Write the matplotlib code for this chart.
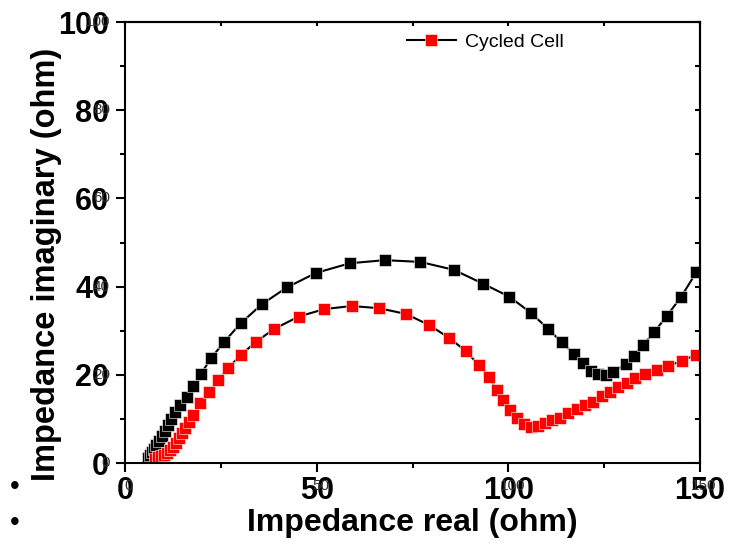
# EIS Nyquist grafigi: taze hucre (siyah) ve cevrimli hucre (kirmizi)
import matplotlib
matplotlib.use("Agg")
import matplotlib.pyplot as plt

plt.rcParams["font.family"] = ["Liberation Sans", "DejaVu Sans"]

# siyah seri (lejantta yok)
siyah_x = [6.1, 6.5, 7.0, 7.6, 8.2, 8.9, 9.7, 10.4, 11.2, 12.0, 13.0, 14.3,
           16.1, 17.8, 19.8, 22.4, 25.9, 30.2, 35.7, 42.2, 49.8, 58.7, 67.8,
           77.0, 85.8, 93.3, 100.3, 105.8, 110.4, 113.9, 117.1, 119.6, 121.6,
           123.5, 125.5, 127.4, 130.6, 132.8, 135.2, 138.0, 141.3, 145.1, 149.0]
siyah_y = [1.1, 1.8, 2.5, 3.2, 4.1, 5.0, 6.1, 7.3, 8.6, 10.0, 11.6, 13.2,
           15.0, 17.5, 20.2, 23.7, 27.5, 31.7, 36.0, 39.8, 43.1, 45.3, 46.0,
           45.6, 43.8, 40.7, 37.7, 34.1, 30.4, 27.4, 24.8, 22.6, 20.9,
           20.1, 20.0, 20.7, 22.4, 24.3, 26.8, 29.6, 33.3, 37.7, 43.2]

# kirmizi seri: Cycled Cell
kirmizi_x = [7.8, 8.6, 9.4, 10.2, 11.0, 11.7, 12.5, 13.3, 14.1, 14.9, 15.7,
             16.7, 17.8, 19.6, 22.0, 24.3, 26.9, 30.2, 34.2, 38.9, 45.3, 52.0,
             59.1, 66.3, 73.3, 79.3, 84.5, 88.9, 92.3, 95.0, 97.0, 98.7, 100.4,
             102.2, 104.0, 105.9, 107.7, 109.6, 111.4, 113.5, 115.6, 117.8,
             120.0, 122.2, 124.4, 126.5, 128.7, 130.9, 133.0, 135.7, 138.7,
             141.7, 145.2, 149.0]
kirmizi_y = [1.0, 1.25, 1.5, 1.8, 2.3, 2.9, 3.7, 4.6, 5.7, 6.8, 7.9,
             9.4, 10.9, 13.5, 16.2, 18.8, 21.5, 24.5, 27.5, 30.4, 33.2, 34.9,
             35.6, 35.1, 33.8, 31.3, 28.4, 25.4, 22.2, 19.4, 16.6, 14.2, 12.1,
             10.3, 8.9, 8.2, 8.5, 9.1, 9.8, 10.3, 11.3, 12.2,
             13.2, 13.9, 15.1, 16.1, 17.2, 18.2, 19.2, 20.1, 21.0,
             21.9, 23.2, 24.5]

x_tikler = [0, 50, 100, 150]
y_tikler = [0, 20, 40, 60, 80, 100]

fig = plt.figure(figsize=(7.29, 5.46), dpi=100)
ax = fig.add_axes([0.1715, 0.152, 0.7887, 0.8077])

ax.plot(siyah_x, siyah_y, "-", color="black", linewidth=1.5,
        marker="s", markersize=8.8, markerfacecolor="black",
        markeredgecolor="white", markeredgewidth=0.4)
ax.plot(kirmizi_x, kirmizi_y, "-", color="black", linewidth=1.5,
        marker="s", markersize=8.8, markerfacecolor="red",
        markeredgecolor="white", markeredgewidth=0.4, label="Cycled Cell")

ax.set_xlim(0, 150)
ax.set_ylim(0, 100)
ax.set_xticks(x_tikler)
ax.set_yticks(y_tikler)
ax.set_xticks([25, 75, 125], minor=True)
ax.set_yticks([10, 30, 50, 70, 90], minor=True)
ax.set_xticklabels([str(t) for t in x_tikler], fontsize=22, fontweight="bold")
ax.set_yticklabels([str(t) for t in y_tikler], fontsize=22, fontweight="bold")
ax.tick_params(which="major", direction="out", length=6.5, width=1.5, pad=4)
ax.tick_params(axis="y", which="major", pad=5)
ax.tick_params(axis="x", which="major", pad=3)
ax.tick_params(which="minor", direction="out", length=3.5, width=1.5)

for s in ax.spines.values():
    s.set_linewidth(1.5)

# sag ve ust eksende iceri bakan tikler
sag = ax.secondary_yaxis("right")
sag.set_yticks(y_tikler + [10, 30, 50, 70, 90])
sag.set_yticklabels([])
sag.tick_params(direction="in", length=3.5, width=1.5)
sag.spines["right"].set_linewidth(1.5)
ust = ax.secondary_xaxis("top")
ust.set_xticks(x_tikler + [25, 75, 125])
ust.set_xticklabels([])
ust.tick_params(direction="in", length=3, width=1.5)
ust.spines["top"].set_linewidth(1.5)

# arkadaki ince etiketler (orijinalde ust uste binmis)
for t in y_tikler:
    ax.text(-0.026, t, str(t), transform=ax.get_yaxis_transform(),
            ha="right", va="center", fontsize=11, color="#333333")
for t in x_tikler:
    ax.text(t + 1.0, -0.036, str(t), transform=ax.get_xaxis_transform(),
            ha="center", va="top", fontsize=11, color="#333333")

ax.set_xlabel("Impedance real (ohm)", fontsize=23, fontweight="bold")
ax.set_ylabel("Impedance imaginary (ohm)", fontsize=23.5, fontweight="bold")
ax.xaxis.label.set_va("center")
ax.yaxis.label.set_va("center")
ax.xaxis.set_label_coords(0.5, -0.136)
ax.yaxis.set_label_coords(-0.137, 0.451)

ax.legend(loc="upper left", bbox_to_anchor=(0.47, 1.0), frameon=False,
          fontsize=14, handlelength=2.5, handletextpad=0.5, borderaxespad=0.2)

# sol alttaki madde isaretleri
fig.text(15 / 729, 1 - 487 / 546, "\u2022", fontsize=20, ha="center", va="center")
fig.text(15 / 729, 1 - 523 / 546, "\u2022", fontsize=20, ha="center", va="center")

fig.savefig("out.png", dpi=100)
